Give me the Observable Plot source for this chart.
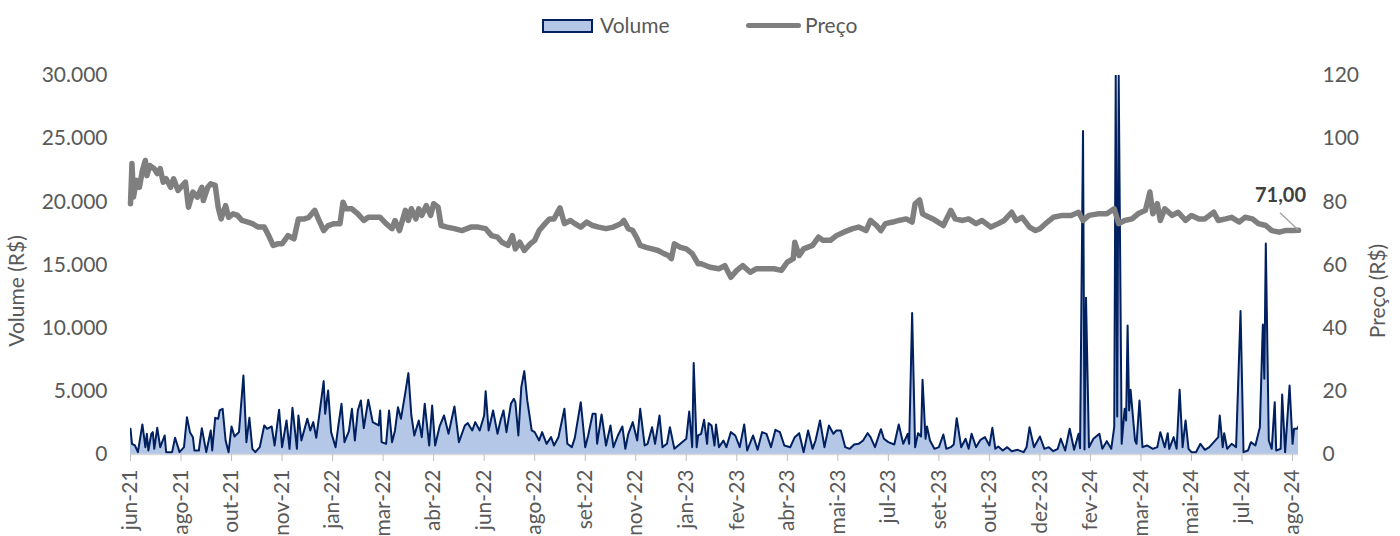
<!DOCTYPE html>
<html>
<head>
<meta charset="utf-8">
<script src="https://cdn.jsdelivr.net/npm/d3@7"></script>
<script src="https://cdn.jsdelivr.net/npm/@observablehq/plot@0.6"></script>
<style>
  html, body { margin: 0; padding: 0; background: #fff; }
  body { width: 1400px; height: 536px; overflow: hidden; font-family: Lato, "Open Sans", sans-serif; color: #595959; }
  #legend { position: relative; width: 1400px; height: 50px; font-size: 21px; }
  #legend .sw-vol { position: absolute; left: 542px; top: 19px; width: 51px; height: 14px; box-sizing: border-box; background: #B4C7E7; border: 2px solid #002060; }
  #legend .sw-price { position: absolute; left: 746px; top: 22.5px; width: 55px; height: 5px; background: #7F7F7F; border-radius: 3px; }
  #legend .lab { position: absolute; top: 12px; line-height: 26px; }
</style>
</head>
<body>
<div id="legend">
  <div class="sw-vol"></div><div class="lab" style="left:600px">Volume</div>
  <div class="sw-price"></div><div class="lab" style="left:805px">Preço</div>
</div>
<div id="chart"></div>
<script>
// ---- data (x = trading-session index, 0 = first session of jun-21) ----
const xTickLabels = ["jun-21","ago-21","out-21","nov-21","jan-22","mar-22","abr-22","jun-22","ago-22","set-22","nov-22","jan-23","fev-23","abr-23","mai-23","jul-23","set-23","out-23","dez-23","fev-24","mar-24","mai-24","jul-24","ago-24"];
const TICK_STEP = 34;          // sessions between category labels
const LAST_SESSION = 786;

const volumeTicks = [0, 5000, 10000, 15000, 20000, 25000, 30000];
const priceTicks = [0, 20, 40, 60, 80, 100, 120];

const volDay = [0,1,3,5,8,10,11,12,14,15,16,18,20,23,24,28,30,33,36,38,40,42,43,46,48,51,54,55,57,59,60,62,64,66,68,70,73,76,78,80,82,84,87,90,92,95,97,100,102,105,107,109,112,113,115,119,121,123,125,127,130,131,133,135,138,140,142,144,147,149,151,153,155,157,160,163,167,168,169,172,174,176,178,180,182,185,187,189,191,194,196,198,201,203,205,208,211,214,218,221,225,227,230,232,235,238,239,241,244,247,249,251,253,256,258,259,261,263,265,267,270,272,275,277,280,283,285,288,292,294,297,299,303,306,308,311,313,314,317,320,323,325,328,331,333,335,338,341,343,346,348,351,353,356,358,361,363,366,370,374,376,378,379,381,382,
384,386,388,389,391,393,394,396,399,401,404,407,410,413,415,419,422,425,428,431,434,437,440,444,447,450,453,456,459,461,464,467,470,473,475,478,481,484,487,490,493,496,498,501,505,507,510,514,517,520,523,524,526,528,530,532,533,535,536,538,541,544,547,549,552,554,556,559,562,564,566,569,572,575,578,580,582,584,587,590,593,597,601,603,605,608,612,615,618,621,624,626,629,632,635,638,639,641,642,643,645,648,652,654,657,660,662,663,664,665,667,669,670,671,672,673,676,677,679,681,684,688,691,693,696,698,699,702,704,706,708,710,712,714,717,720,723,726,729,732,733,735,736,738,741,744,747,749,752,754,757,760,762,763,764,766,768,770,771,774,775,777,780,782,783,785,786];
const volValue = [2030,845,713,185,2376,580,1637,317,1637,1770,450,2112,580,1505,185,185,1320,185,580,2957,1770,1373,317,317,2085,185,1900,317,2900,2825,3485,3617,1109,185,2218,1426,1770,6257,977,2904,450,185,580,2297,2033,2218,713,3538,580,2693,450,3696,450,3089,1109,2825,1900,2561,1320,3089,5808,3221,5069,1770,580,2376,4013,977,1848,3617,1109,3485,4277,2085,4330,2561,2297,3485,977,845,3485,977,1900,3749,2825,4937,6442,3089,1505,2693,1373,4013,713,3881,713,2218,3089,1637,3802,977,2297,2482,1900,2561,1900,3089,5016,1900,3485,1637,2693,3485,1770,4013,4409,4145,1505,5333,6600,4277,1900,1770,1109,1770,845,1373,713,1373,3617,845,580,1320,4145,580,1505,3221,3221,845,3168,713,2297,580,1505,2218,450,1637,2561,1109,3617,713,845,2165,845,3089,580,845,2165,450,845,1241,3406,580,7234,580,1505,
1637,2746,845,2482,2297,713,2376,580,1109,580,1770,1505,580,2376,317,1505,370,1770,1637,580,1954,1770,713,580,1373,1690,185,1900,450,1109,2693,580,2297,1637,1900,1900,580,450,792,845,1109,1690,1373,580,2006,1241,977,792,2376,845,1637,845,11194,580,1690,1426,5914,1241,2218,1109,450,580,1584,450,580,792,2878,580,1241,450,1637,580,1162,1373,713,2112,450,634,317,580,264,370,185,580,2165,580,1426,450,580,264,450,1241,317,2033,370,1637,500,25600,400,12400,580,1241,1637,450,1056,450,2165,30000,3000,30000,845,3617,2693,10217,3485,5122,1109,845,4277,580,713,450,580,1770,580,1690,450,1373,450,5122,580,2693,450,185,185,845,370,580,977,1373,3089,580,1690,450,845,580,11352,185,317,977,713,2165,10296,5993,16700,1109,450,4145,317,450,4752,185,5465,845,2033,2033,2218];

const priceDay = [0,1,2,4,6,8,10,11,13,16,18,20,22,24,27,29,32,35,37,39,42,45,48,49,52,54,57,59,61,64,66,69,72,75,79,82,86,90,93,96,99,102,106,110,113,117,120,124,126,130,133,137,141,143,145,149,153,157,160,164,168,172,176,178,181,185,187,189,192,194,196,199,202,204,207,209,213,218,223,229,234,239,243,247,250,254,257,259,262,265,269,272,275,279,282,285,289,292,296,299,303,307,311,315,320,325,330,332,335,338,341,343,347,351,355,359,362,364,366,370,374,378,382,
384,390,396,400,404,408,412,417,421,427,433,438,442,446,447,450,453,459,463,466,471,475,480,486,490,495,498,502,505,508,513,517,522,526,528,531,533,535,540,545,547,552,555,560,564,569,573,579,584,588,593,596,600,605,609,612,617,621,627,633,638,641,645,651,657,662,665,669,674,678,683,686,688,691,693,696,701,705,710,714,719,723,729,732,737,741,746,750,755,759,764,768,773,777,782,786];
const priceValue = [79.4,92.1,81.5,86.8,84.6,89.9,93.1,88.3,91.5,90.5,88.9,90.5,86.2,87.3,84.6,87.3,83.6,85.2,86.2,78.3,83.1,81.5,84.6,80.4,84.6,85.7,85.2,78.3,74.6,78.8,75.1,76.2,75.7,74.1,73.6,73.1,72.0,72.0,69.3,66.2,66.7,66.7,69.3,68.3,74.6,74.6,75.1,77.3,75.1,70.9,72.5,73.1,73.1,79.9,77.8,77.8,76.2,74.1,75.1,75.1,75.1,73.1,71.5,74.1,70.9,77.3,74.1,77.8,74.6,77.8,75.7,78.8,75.7,79.4,78.3,72.5,72.0,71.5,70.9,72.0,72.0,71.5,69.3,68.8,67.2,66.2,69.3,65.1,67.2,64.6,66.7,67.8,70.9,73.1,74.6,74.6,78.1,73.1,74.1,73.1,72.0,73.6,72.5,72.0,71.5,72.0,73.1,74.1,71.5,70.9,68.3,66.2,65.6,65.1,64.6,63.6,63.0,62.0,66.7,65.6,65.1,63.6,60.4,
60.4,59.3,58.8,59.8,56.1,58.3,59.8,57.7,58.8,58.8,58.8,58.3,60.9,62.0,67.2,63.0,65.1,66.2,68.8,67.8,67.8,69.3,70.4,71.5,72.0,70.9,74.1,72.5,70.9,73.1,73.6,74.1,74.6,73.6,79.4,80.6,76.2,75.7,74.6,73.1,72.5,77.3,74.6,74.1,74.6,73.1,74.1,72.0,73.1,74.1,76.7,74.1,75.1,72.0,70.9,71.5,73.6,75.1,75.7,75.7,76.7,74.1,75.7,76.2,76.2,77.8,73.1,74.1,74.6,76.2,77.3,83.1,76.2,79.4,74.1,77.8,75.7,76.7,74.1,75.7,74.6,74.6,76.7,74.1,74.6,75.1,73.6,75.1,74.6,73.1,72.5,70.9,70.4,70.9,70.9,71.0];

const lastPriceLabel = "71,00";
const PRICE_FACTOR = 30000 / 120;  // secondary axis 0–120 mapped onto primary 0–30.000

// ---- build tables ----
const volume = volDay.map((d, i) => ({day: d, value: volValue[i]}));
const price = priceDay.map((d, i) => ({day: d, price: priceValue[i], y: priceValue[i] * PRICE_FACTOR}));
const last = price[price.length - 1];

const fmtThousands = d => d3.format(",")(d).replace(/,/g, ".");

const plot = Plot.plot({
  width: 1400,
  height: 486,
  marginTop: 25,
  marginBottom: 82,
  marginLeft: 130,
  marginRight: 102,
  style: {fontFamily: "Lato, 'Open Sans', sans-serif", fontSize: "21px", color: "#595959", background: "transparent", overflow: "visible"},
  x: {domain: [0, LAST_SESSION], axis: null},
  y: {domain: [0, 30000], axis: null},
  marks: [
    Plot.areaY(volume, {x: "day", y: "value", fill: "#B4C7E7", clip: true}),
    Plot.lineY(volume, {x: "day", y: "value", stroke: "#002060", strokeWidth: 2, strokeLinejoin: "round", clip: true}),
    Plot.lineY(price, {x: "day", y: "y", stroke: "#7F7F7F", strokeWidth: 5.5, strokeLinejoin: "round", strokeLinecap: "round"}),
    Plot.ruleY([0], {stroke: "#D9D9D9", strokeWidth: 1.5}),
    Plot.axisX(d3.range(xTickLabels.length).map(i => i * TICK_STEP), {
      anchor: "bottom", tickSize: 7, tickPadding: 8, tickRotate: -90,
      tickFormat: d => xTickLabels[Math.round(d / TICK_STEP)],
      stroke: "#BFBFBF", fill: "#595959", label: null
    }),
    Plot.axisY(volumeTicks, {anchor: "left", tickSize: 0, tickPadding: 23, tickFormat: fmtThousands, fill: "#595959", label: null}),
    Plot.axisY(priceTicks.map(p => p * PRICE_FACTOR), {anchor: "right", tickSize: 0, tickPadding: 24, tickFormat: d => String(Math.round(d / PRICE_FACTOR)), fill: "#595959", label: null}),
    Plot.text(["Volume (R$)"], {text: d => d, frameAnchor: "left", textAnchor: "middle", dx: -113, dy: 26, rotate: -90, fill: "#595959"}),
    Plot.text(["Preço (R$)"], {text: d => d, frameAnchor: "right", textAnchor: "middle", dx: 80, dy: 26, rotate: -90, fill: "#595959"}),
    Plot.text([last], {x: "day", y: "y", text: () => lastPriceLabel, dx: -18, dy: -35, fontWeight: "bold", fill: "#404040", fontSize: 20})
  ]
});
document.getElementById("chart").appendChild(plot);

// leader line for the last-price label, placed with the plot's own scales
const sx = plot.scale("x"), sy = plot.scale("y");
const px = sx.apply(last.day), py = sy.apply(last.y);
d3.select(plot).append("line")
  .attr("x1", px - 18).attr("y1", py - 17)
  .attr("x2", px).attr("y2", py)
  .attr("stroke", "#A6A6A6").attr("stroke-width", 1.5);
</script>
</body>
</html>
